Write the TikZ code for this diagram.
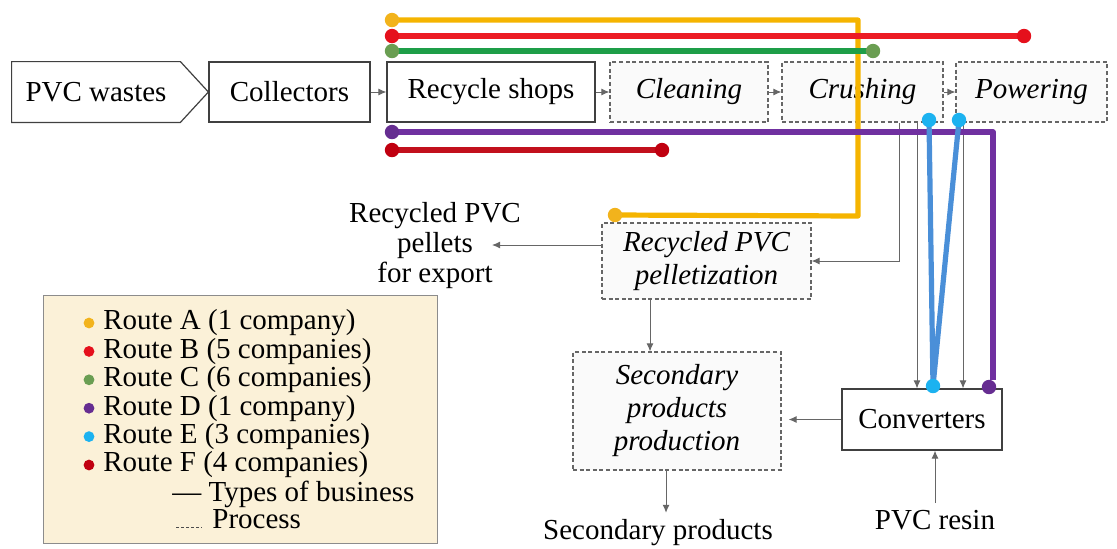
\documentclass[tikz,border=0pt]{standalone}
\usepackage{fontspec}
\setmainfont{Liberation Serif}
\usetikzlibrary{calc,arrows.meta}
\definecolor{lineA}{HTML}{F5B400}\definecolor{dotA}{HTML}{F2B31C}
\definecolor{lineB}{HTML}{EC1C24}\definecolor{dotB}{HTML}{E5101C}
\definecolor{lineC}{HTML}{1E9E48}\definecolor{dotC}{HTML}{6A9E52}
\definecolor{lineD}{HTML}{7030A0}\definecolor{dotD}{HTML}{662D91}
\definecolor{lineE}{HTML}{4A8FD8}\definecolor{dotE}{HTML}{1CB2F0}
\definecolor{lineF}{HTML}{C2101C}\definecolor{dotF}{HTML}{C00010}
\definecolor{legbg}{HTML}{FBF1D8}
\newcommand\figfont{\fontsize{14.5}{16.5}\selectfont}
\begin{document}
\begin{tikzpicture}[x=0.5pt,y=-0.5pt,font=\figfont,
  biz/.style={draw=black!75,line width=0.6pt,fill=white,minimum height=30pt,inner sep=1pt},
  proc/.style={biz,draw=black!60,dash pattern=on 2pt off 1.3pt,fill=black!2,font=\figfont\itshape},
  flow/.style={draw=black!60,line width=0.5pt,-{Latex[length=4pt,width=3.5pt]}},
  route/.style={line width=2.6pt,line join=round}]
\useasboundingbox (0,0) rectangle (1117,548);

% main chain
\node[minimum width=84pt,minimum height=30pt,inner sep=1pt] (wastes) at (96,92) {PVC wastes};
\draw[black!75,line width=0.6pt] (wastes.north west) -- (wastes.north east) -- ($(wastes.east)+(28,0)$) -- (wastes.south east) -- (wastes.south west) -- cycle;
\node[biz,minimum width=80.5pt] (collect) at (289.5,92) {Collectors};
\node[biz,minimum width=104pt] (shops) at (491,92) {Recycle shops};
\node[proc,minimum width=79pt] (clean) at (689,92) {Cleaning};
\node[proc,minimum width=80.5pt] (crush) at (862.5,92) {Crushing};
\node[proc,minimum width=75.5pt] (power) at (1031.5,92) {Powering};
\node[proc,minimum width=104.5pt,minimum height=38pt,align=center] (pellet) at (706.5,261) {Recycled PVC\\pelletization};
\node[proc,minimum width=104pt,minimum height=59pt,align=center] (second) at (677,411) {Secondary\\products\\production};
\node[biz,minimum width=80pt,minimum height=30.5pt] (conv) at (922,419.5) {Converters};
\node[align=center,font=\fontsize{14.5}{15}\selectfont] (export) at (435,246) {Recycled PVC\\pellets\\for export};
\node (secprod) at (658,533) {Secondary products};
\node (resin) at (935,520) {PVC resin};

\draw[flow] (collect) -- (shops);
\draw[flow] (shops) -- (clean);
\draw[flow] (clean) -- (crush);
\draw[flow] (crush) -- (power);

\coordinate (k1) at ($(crush.south)+(36.5,0)$);
\coordinate (k2) at ($(crush.south)+(54.5,0)$);
\coordinate (k3) at ($(power.south)+(-68.5,0)$);
\coordinate (q1) at ($(pellet.south)+(-56.5,0)$);
\coordinate (q2) at ($(second.south)+(-11,0)$);
\coordinate (q3) at ($(pellet.west)+(0,-16)$);
\coordinate (ex) at (492,245);
\draw[flow] (k1) |- (pellet.east);
\draw[flow] (k2) -- (k2 |- conv.north);
\draw[flow] (k3) -- (k3 |- conv.north);
\draw[flow] (q1) -- (q1 |- second.north);
\draw[flow] (q3) -- (ex);
\draw[flow,shorten >=3.5pt] (conv.west) -- (second.east |- conv.west);
\draw[flow] (q2) -- (q2 |- secprod.north);
\draw[flow] (resin.north) -- (resin.north |- conv.south);

% routes
\coordinate (a1) at (392,20); \coordinate (a2) at (615,215);
\coordinate (b1) at (392,36); \coordinate (b2) at (1024,36);
\coordinate (c1) at (392,51); \coordinate (c2) at (873,51);
\coordinate (f1) at (392,150); \coordinate (f2) at (662,150);
\coordinate (d1) at (392,132); \coordinate (d2) at (989,387);
\coordinate (e1) at (929,120); \coordinate (e2) at (959,120); \coordinate (e3) at (933,386);

\draw[route,lineA] (a1) -- (858,20) -- (858,216) -- (a2);
\draw[route,lineB] (b1) -- (b2);
\draw[route,lineC] (c1) -- (c2);
\draw[route,lineF] (f1) -- (f2);
\draw[route,lineD] (d1) -- (993,132) -- (993,380);
\draw[route,lineE] (e1) -- (e3) -- (e2);
\foreach \p/\c in {a1/dotA,a2/dotA,b1/dotB,b2/dotB,c1/dotC,c2/dotC,f1/dotF,f2/dotF,d1/dotD,d2/dotD,e1/dotE,e2/dotE,e3/dotE}
  \fill[\c] (\p) circle (3.6pt);

% legend
\draw[black!45,fill=legbg] (43,295) rectangle (437,543);
\foreach \c/\t [count=\i] in {dotA/Route A (1 company),dotB/Route B (5 companies),dotC/Route C (6 companies),dotD/Route D (1 company),dotE/Route E (3 companies),dotF/Route F (4 companies)} {
  \fill[\c] (89,{323+28.4*(\i-1)}) circle (2.7pt);
  \node[anchor=west,inner sep=0pt] (leg\i) at (103,{323+28.4*(\i-1)}) {\t};
}
\node[anchor=west,inner sep=0pt] (legbiz) at (172,494) {---\ Types of business};
\draw[black!70,dash pattern=on 1.5pt off 1pt] (176,527) -- (202,527);
\node[anchor=west,inner sep=0pt] (legproc) at (212,519) {Process};

\end{tikzpicture}
\end{document}
